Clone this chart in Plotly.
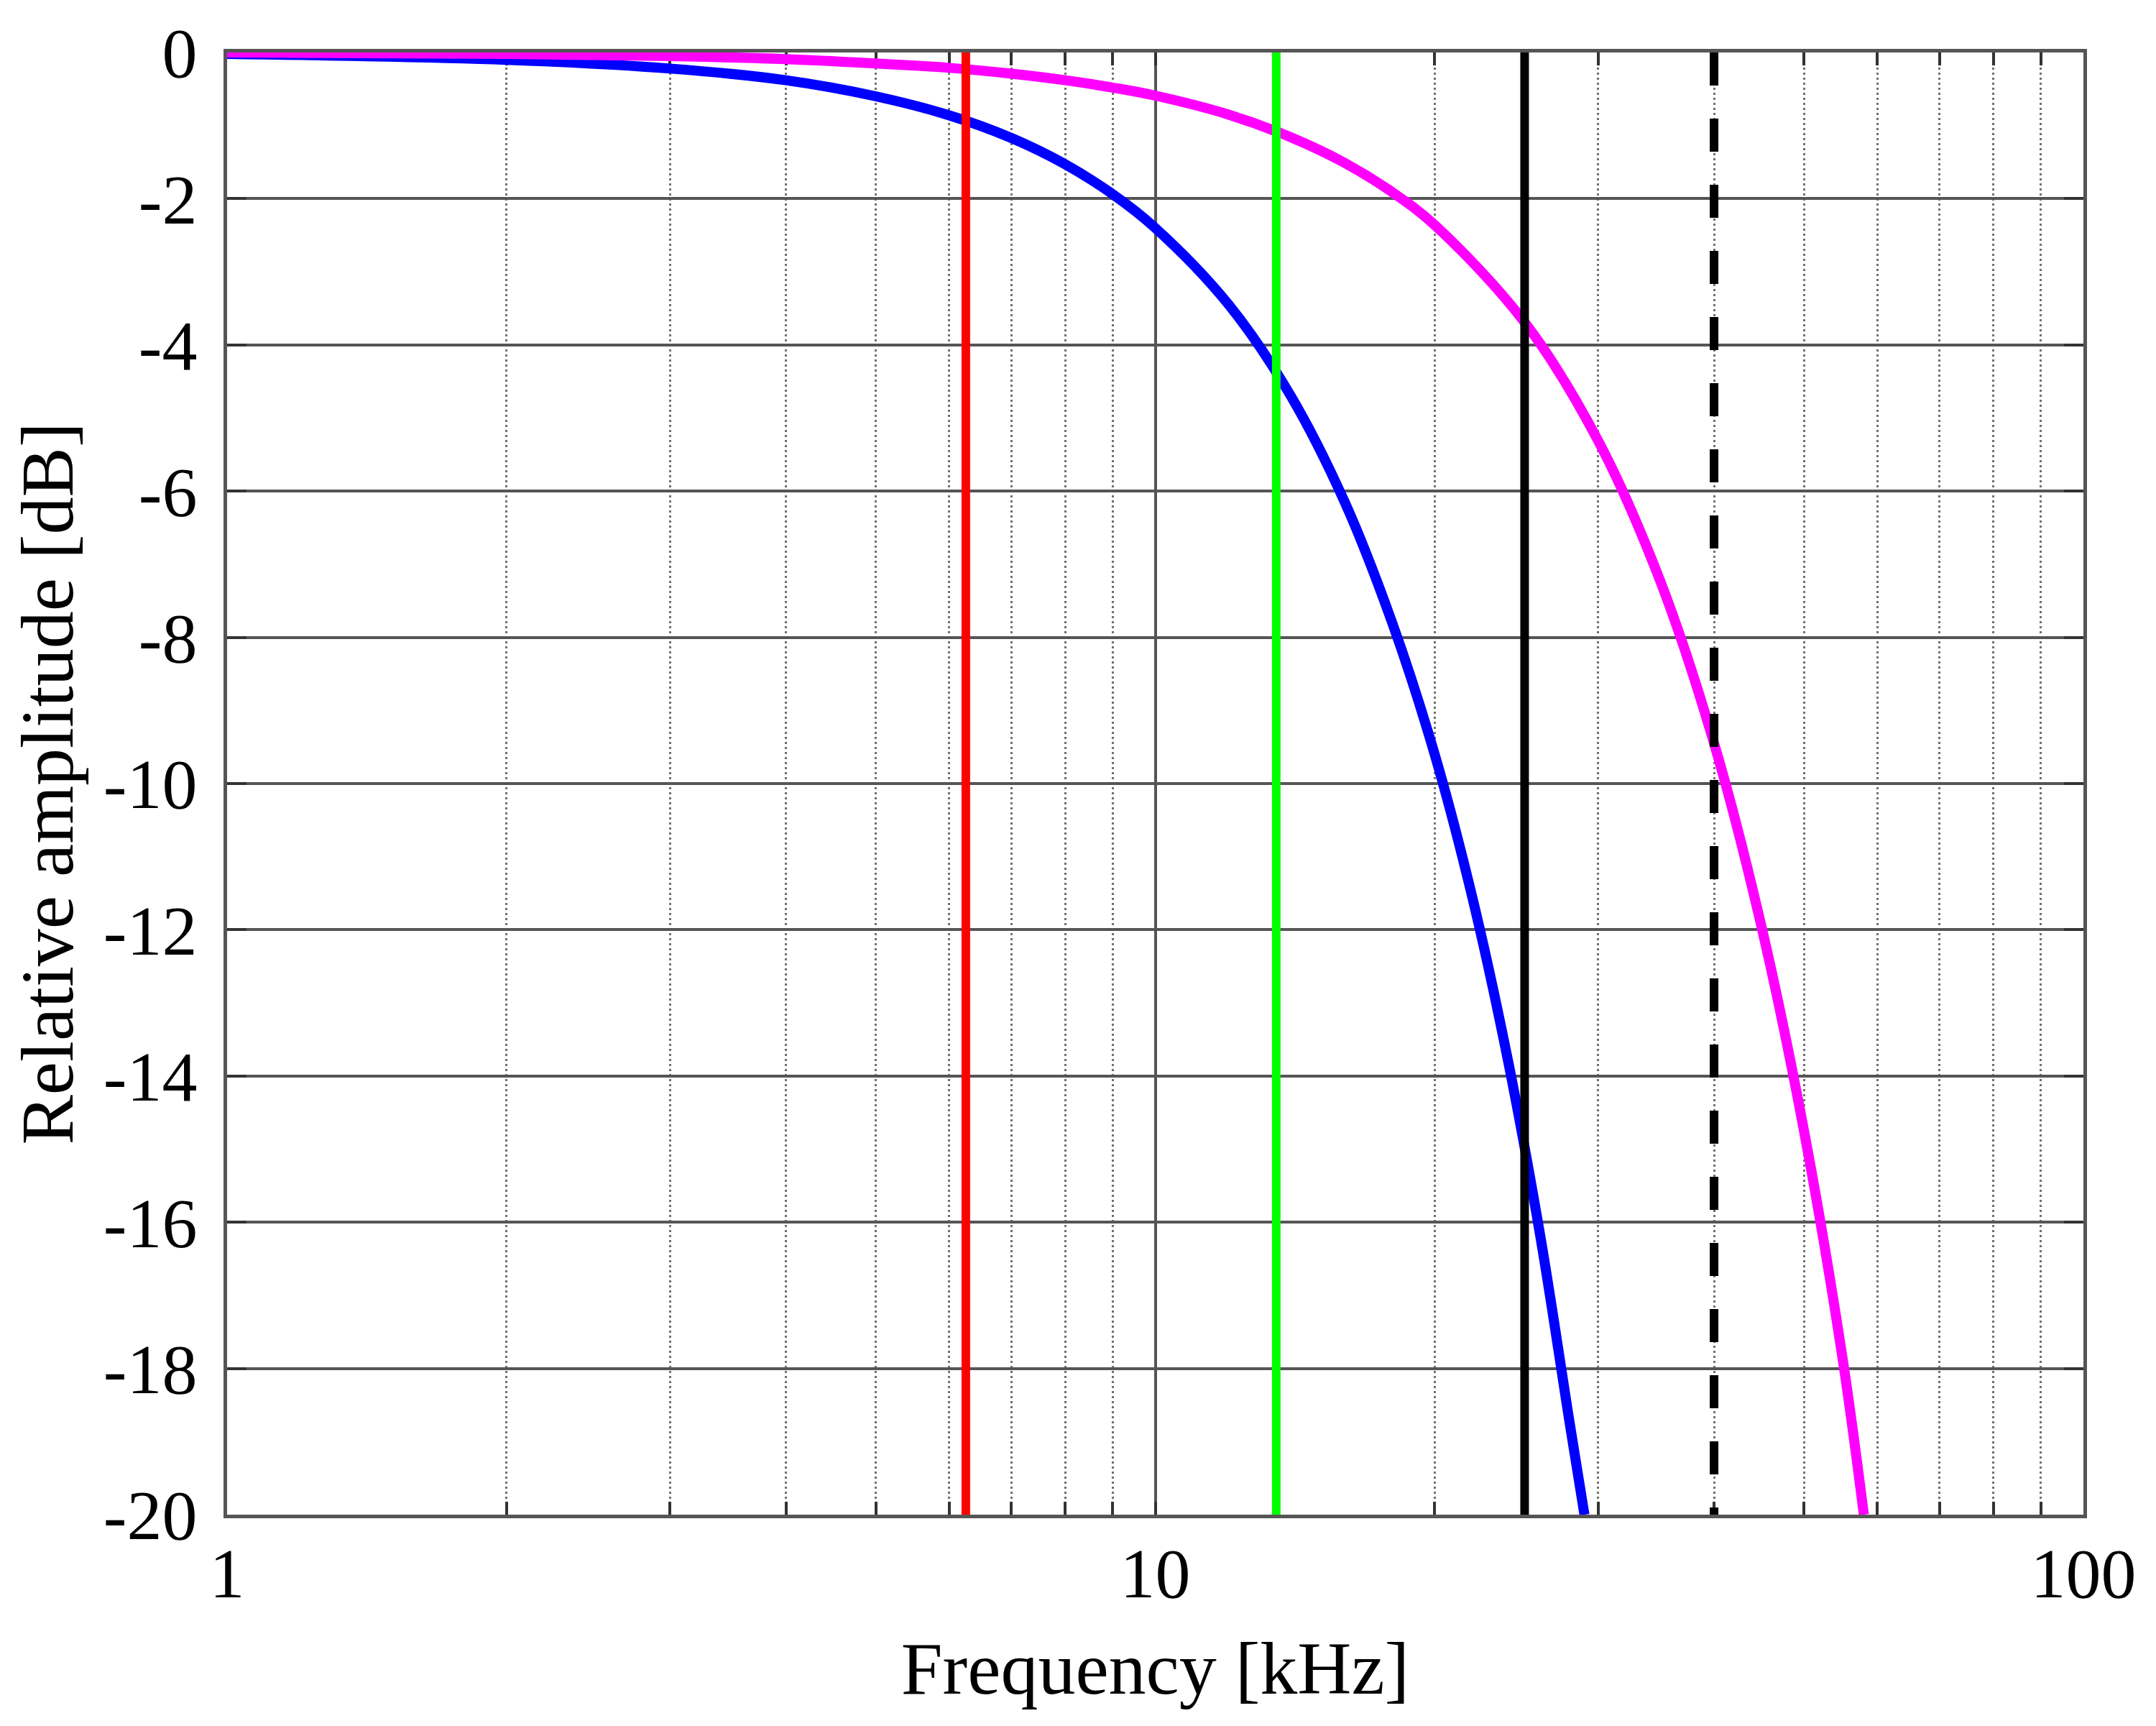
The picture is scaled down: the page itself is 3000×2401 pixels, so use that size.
import plotly.graph_objects as go

# ---- data ----
freq_blue = [1, 2, 3, 4, 5, 6, 7, 8, 9, 10, 12, 14, 16, 18, 20, 22, 24, 26, 28, 29.0]
amp_blue = [-0.02, -0.10, -0.22, -0.38, -0.60, -0.86, -1.17, -1.53, -1.94, -2.40,
            -3.45, -4.70, -6.15, -7.80, -9.60, -11.6, -13.8, -16.2, -18.8, -20.0]

freq_magenta = [1, 2, 3, 4, 5, 6, 7, 8, 9, 10, 12, 14, 16, 18, 20, 25, 30, 35, 40, 45, 50, 55, 58.0]
amp_magenta = [0.0, -0.02, -0.05, -0.09, -0.15, -0.21, -0.29, -0.38, -0.48, -0.59,
               -0.85, -1.16, -1.51, -1.91, -2.36, -3.69, -5.31, -7.23, -9.45, -11.96,
               -14.75, -17.85, -20.0]

marker_freqs = [6.25, 13.5, 25, 40]
marker_colors = ["#FF0000", "#00FF00", "#000000", "#000000"]
marker_dashes = ["solid", "solid", "solid", "46px,46px"]

x_major = [1, 10, 100]
x_major_text = ["1", "10", "100"]
x_minor = [2, 3, 4, 5, 6, 7, 8, 9, 20, 30, 40, 50, 60, 70, 80, 90]
y_ticks = [0, -2, -4, -6, -8, -10, -12, -14, -16, -18, -20]
y_tick_text = ["0", "-2", "-4", "-6", "-8", "-10", "-12", "-14", "-16", "-18", "-20"]
y_range = [-20, 0]

fig = go.Figure()

fig.add_trace(go.Scatter(x=freq_blue, y=amp_blue, mode="lines", line=dict(color="#0000FF", width=14, shape="spline"),
                         cliponaxis=False, hoverinfo="skip"))
fig.add_trace(go.Scatter(x=freq_magenta, y=amp_magenta, mode="lines", line=dict(color="#FF00FF", width=14, shape="spline"),
                         cliponaxis=False, hoverinfo="skip"))

for f, c, d in zip(marker_freqs, marker_colors, marker_dashes):
    fig.add_trace(go.Scatter(x=[f, f], y=[y_range[1], y_range[0]], mode="lines",
                             line=dict(color=c, width=12, dash=d), cliponaxis=False, hoverinfo="skip"))

axis_font = dict(family="Liberation Serif", size=98, color="black")
title_font = dict(family="Liberation Serif", size=104, color="black")

# page body has an 8px margin: figure is shifted, so the size is reduced accordingly
fig.update_layout(
    width=2984, height=2385,
    margin=dict(l=308, r=93, t=63, b=286),
    plot_bgcolor="white", paper_bgcolor="white",
    showlegend=False,
    font=axis_font,
)

fig.update_xaxes(
    type="log", range=[0, 2],
    tickmode="array", tickvals=x_major, ticktext=x_major_text,
    tickfont=axis_font,
    showgrid=True, gridcolor="#555555", gridwidth=4,
    showline=True, linecolor="#555555", linewidth=5, mirror="ticks",
    ticks="inside", ticklen=18, tickwidth=4, tickcolor="#333333",
    minor=dict(tickmode="array", tickvals=x_minor, showgrid=True, gridcolor="#707070",
               gridwidth=3, griddash="3px,4px", ticks="inside", ticklen=18, tickwidth=4, tickcolor="#333333"),
    zeroline=False, layer="below traces",
    ticklabelstandoff=-8,
    title=dict(text="Frequency [kHz]", font=title_font, standoff=43),
)

fig.update_yaxes(
    range=y_range,
    tickmode="array", tickvals=y_ticks, ticktext=y_tick_text,
    tickfont=axis_font,
    showgrid=True, gridcolor="#555555", gridwidth=4,
    showline=True, linecolor="#555555", linewidth=5, mirror="ticks",
    ticks="inside", ticklen=27, tickwidth=4, tickcolor="#333333",
    zeroline=False, layer="below traces",
    ticklabelstandoff=17,
    title=dict(text="Relative amplitude [dB]", font=title_font, standoff=40),
)

fig.write_html("out.html")
